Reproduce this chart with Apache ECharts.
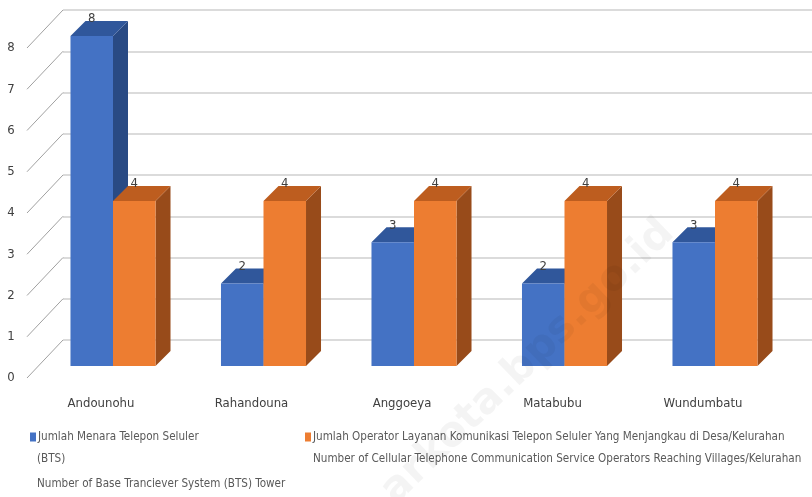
<!DOCTYPE html>
<html>
<head>
<meta charset="utf-8">
<script src="https://cdn.jsdelivr.net/npm/echarts@6/dist/echarts.min.js"></script>
<style>
  html, body { margin: 0; padding: 0; background: #fff; }
  #chart { width: 812px; height: 497px; }
</style>
</head>
<body>
<div id="chart"></div>
<script>
const categories = ['Andounohu', 'Rahandouna', 'Anggoeya', 'Matabubu', 'Wundumbatu']
const btsTowers = [8, 2, 3, 2, 3]
const operators = [4, 4, 4, 4, 4]
const yTicks = [0, 1, 2, 3, 4, 5, 6, 7, 8]

const btsName = ['Jumlah Menara Telepon Seluler', '(BTS)', 'Number of Base Tranciever System (BTS) Tower']
const opName = ['Jumlah Operator Layanan Komunikasi Telepon Seluler Yang Menjangkau di Desa/Kelurahan',
  'Number of Cellular Telephone Communication Service Operators Reaching Villages/Kelurahan']

const FONT = '"Liberation Sans Narrow", "DejaVu Sans Condensed", sans-serif'
const LEGEND_SIZE = 11.6
const BAR_RATIO = 0.2825
// bar depth (back face offset)
const DX = 15, DY = 15
// full floor depth, front axis -> back wall
const WALL_DX = 36, WALL_DY = 38

const blue = { front: '#4472C4', top: '#30579b', side: '#294a84' }
const orange = { front: '#ED7D31', top: '#bd5d1f', side: '#984b1a' }

function barRenderer(side, c) {
  return function (params, api) {
    const i = api.value(0), v = api.value(1)
    const base = api.coord([i, 0])
    const top = api.coord([i, v])
    const w = api.size([1, 0])[0] * BAR_RATIO
    const x0 = side === 0 ? base[0] - w : base[0]
    const x1 = x0 + w
    const yb = base[1], yt = top[1]
    return {
      type: 'group',
      children: [
        { type: 'polygon', shape: { points: [[x1, yt], [x1 + DX, yt - DY], [x1 + DX, yb - DY], [x1, yb]] }, style: { fill: c.side } },
        { type: 'polygon', shape: { points: [[x0, yt], [x1, yt], [x1 + DX, yt - DY], [x0 + DX, yt - DY]] }, style: { fill: c.top } },
        { type: 'rect', shape: { x: x0, y: yt, width: w, height: yb - yt }, style: { fill: c.front } },
        { type: 'text', x: (x0 + x1) / 2, y: yt - DY - 2, style: { text: String(v), fill: '#404040', font: '13px ' + FONT, align: 'center', verticalAlign: 'middle' } }
      ]
    }
  }
}

const legendText = { color: '#595959', fontSize: LEGEND_SIZE, fontFamily: FONT, padding: [0, 0, 0, -3] }

const chart = echarts.init(document.getElementById('chart'))
chart.setOption({
  animation: false,
  grid: [
    // bar front plane
    { left: 37.75, right: 21.75, top: 36, bottom: 131 },
    // back wall
    { left: 63, right: 0, top: 10, bottom: 157 },
    // front axis
    { left: 25.75, right: 33.75, top: 48, bottom: 119 }
  ],
  xAxis: [
    { gridIndex: 0, type: 'category', data: categories, show: false },
    { gridIndex: 1, type: 'value', min: 0, max: 1, show: false },
    {
      gridIndex: 2, type: 'category', data: categories,
      axisLine: { show: false }, axisTick: { show: false },
      axisLabel: { margin: 19, color: '#404040', fontSize: 13, fontFamily: FONT }
    }
  ],
  yAxis: [
    { gridIndex: 0, type: 'value', min: 0, max: 8, interval: 1, show: false },
    {
      gridIndex: 1, type: 'value', min: 0, max: 8, interval: 1,
      axisLine: { show: false }, axisTick: { show: false }, axisLabel: { show: false },
      splitLine: { lineStyle: { color: '#cfcfcf', width: 1.5 } }
    },
    {
      gridIndex: 2, type: 'value', min: 0, max: 8, interval: 1,
      axisLine: { show: false }, axisTick: { show: false }, splitLine: { show: false },
      axisLabel: { margin: 11, color: '#404040', fontSize: 13, fontFamily: FONT }
    }
  ],
  legend: [
    {
      left: 30, top: 431, padding: 0, data: [btsName[0]], icon: 'rect', itemWidth: 6, itemHeight: 9, itemGap: 0,
      textStyle: legendText
    },
    {
      left: 305, top: 431, padding: 0, data: [opName[0]], icon: 'rect', itemWidth: 6, itemHeight: 9, itemGap: 0,
      textStyle: legendText
    }
  ],
  graphic: [
    { type: 'text', left: 37, top: 453, style: { text: btsName[1], fill: '#595959', font: LEGEND_SIZE + 'px ' + FONT } },
    { type: 'text', left: 37, top: 478, style: { text: btsName[2], fill: '#595959', font: LEGEND_SIZE + 'px ' + FONT } },
    { type: 'text', left: 313, top: 453, style: { text: opName[1], fill: '#595959', font: LEGEND_SIZE + 'px ' + FONT } },
    {
      type: 'text', x: 528, y: 362, rotation: Math.PI * 44 / 180, z: 100, silent: true,
      style: { text: 'arkota.bps.go.id', fill: 'rgba(0,0,0,0.045)', font: 'bold 42px "DejaVu Sans", sans-serif', align: 'center', verticalAlign: 'middle' }
    }
  ],
  series: [
    {
      type: 'custom', name: 'walls', xAxisIndex: 1, yAxisIndex: 1, silent: true,
      data: yTicks.map(t => [0, t]),
      renderItem: (params, api) => {
        const p = api.coord([api.value(0), api.value(1)])
        return {
          type: 'line',
          shape: { x1: p[0] - WALL_DX, y1: p[1] + WALL_DY, x2: p[0], y2: p[1] },
          style: { stroke: '#a0a0a0', lineWidth: 1 }
        }
      }
    },
    {
      type: 'custom', name: btsName[0], xAxisIndex: 0, yAxisIndex: 0,
      itemStyle: { color: blue.front },
      data: btsTowers.map((v, i) => [i, v]),
      renderItem: barRenderer(0, blue)
    },
    {
      type: 'custom', name: opName[0], xAxisIndex: 0, yAxisIndex: 0,
      itemStyle: { color: orange.front },
      data: operators.map((v, i) => [i, v]),
      renderItem: barRenderer(1, orange)
    }
  ]
})
</script>
</body>
</html>
